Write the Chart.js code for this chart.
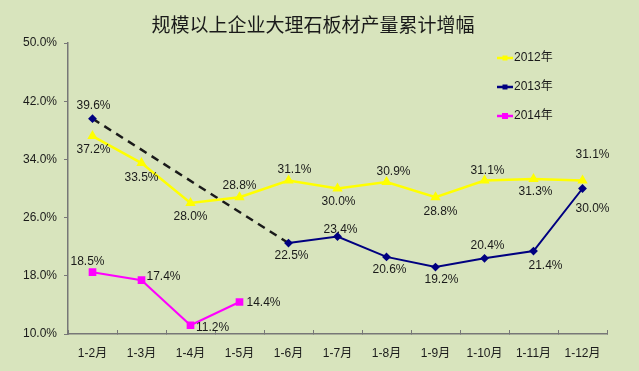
<!DOCTYPE html>
<html lang="zh">
<head>
    <meta charset="UTF-8">
    <title>规模以上企业大理石板材产量累计增幅</title>
    <style>
        html, body { margin: 0; padding: 0; background: #d8e4bd; }
        #wrap { width: 639px; height: 371px; position: relative; }
    </style>
</head>
<body>
    <div id="wrap">
        <canvas id="myChart" width="639" height="371"></canvas>
    </div>

    <script src="https://cdn.jsdelivr.net/npm/chart.js"></script>
    <script>
        // data
        const months = ['1-2月', '1-3月', '1-4月', '1-5月', '1-6月', '1-7月', '1-8月', '1-9月', '1-10月', '1-11月', '1-12月'];
        const growth2012 = [37.2, 33.5, 28.0, 28.8, 31.1, 30.0, 30.9, 28.8, 31.1, 31.3, 31.1];
        const growth2013 = [39.6, null, null, null, 22.5, 23.4, 20.6, 19.2, 20.4, 21.4, 30.0];
        const growth2014 = [18.5, 17.4, 11.2, 14.4];
        const yTicks = [10, 18, 26, 34, 42, 50];

        // where each value label sits relative to its point (dx, dy)
        const labelPos = {
            0: [[1, 14], [0, 15], [0, 14], [0, -12], [6, -11], [1, 13], [7, -10], [5, 14], [3, -10], [2, 13], [10, -26]],
            1: [[1, -13], null, null, null, [3, 13], [3, -7], [3, 13], [6, 13], [3, -13], [12, 15], [10, 20]],
            2: [[-5, -10], [22, -3], [22, 2], [24, 1]]
        };

        const valueLabels = {
            id: 'valueLabels',
            afterDatasetsDraw(chart) {
                const ctx = chart.ctx;
                ctx.save();
                ctx.font = '12px "Liberation Sans", Arial, sans-serif';
                ctx.fillStyle = '#1a1a1a';
                ctx.textAlign = 'center';
                ctx.textBaseline = 'middle';
                chart.data.datasets.forEach((ds, i) => {
                    const meta = chart.getDatasetMeta(i);
                    meta.data.forEach((pt, j) => {
                        const v = ds.data[j];
                        const off = labelPos[i][j];
                        if (v == null || !off) return;
                        ctx.fillText(v.toFixed(1) + '%', pt.x + off[0], pt.y + off[1]);
                    });
                });
                ctx.restore();
            }
        };

        const titleAndLegend = {
            id: 'titleAndLegend',
            afterDraw(chart) {
                const ctx = chart.ctx;
                ctx.save();
                ctx.fillStyle = '#1a1a1a';
                ctx.font = '19px "Noto Sans CJK SC", sans-serif';
                ctx.textAlign = 'center';
                ctx.textBaseline = 'middle';
                ctx.fillText('规模以上企业大理石板材产量累计增幅', 313, 25);

                // legend
                ctx.font = '12px "Liberation Sans", "Noto Sans CJK SC", sans-serif';
                ctx.textAlign = 'left';
                chart.data.datasets.forEach((ds, i) => {
                    const y = 58 + i * 29;
                    ctx.strokeStyle = ds.borderColor;
                    ctx.lineWidth = 2.5;
                    ctx.beginPath();
                    ctx.moveTo(497, y);
                    ctx.lineTo(513, y);
                    ctx.stroke();
                    ctx.fillStyle = ds.borderColor;
                    const r = i === 2 ? 3 : 2.5;
                    ctx.fillRect(505 - r, y - r, r * 2, r * 2);
                    ctx.fillStyle = '#1a1a1a';
                    ctx.fillText(ds.label, 514, y);
                });
                ctx.restore();
            }
        };

        const bg = {
            id: 'bg',
            beforeDraw(chart) {
                const ctx = chart.ctx;
                ctx.save();
                ctx.fillStyle = '#d8e4bd';
                ctx.fillRect(0, 0, chart.width, chart.height);
                ctx.restore();
            }
        };

        // segment that spans the missing months of 2013
        const isGap = c => c.p0.skip || c.p1.skip;

        const ctx = document.getElementById('myChart').getContext('2d');
        new Chart(ctx, {
            type: 'line',
            data: {
                labels: months,
                datasets: [
                    {
                        label: '2012年',
                        data: growth2012,
                        borderColor: '#ffff00',
                        backgroundColor: '#ffff00',
                        borderWidth: 2.5,
                        pointStyle: 'triangle',
                        pointRadius: 3.5,
                        tension: 0
                    },
                    {
                        label: '2013年',
                        data: growth2013,
                        borderColor: '#000080',
                        backgroundColor: '#000080',
                        borderWidth: 2,
                        pointStyle: 'rectRot',
                        pointRadius: 3,
                        spanGaps: true,
                        tension: 0,
                        segment: {
                            borderColor: c => isGap(c) ? '#1a1a1a' : undefined,
                            borderDash: c => isGap(c) ? [8, 6] : undefined,
                            borderWidth: c => isGap(c) ? 2.5 : undefined
                        }
                    },
                    {
                        label: '2014年',
                        data: growth2014,
                        borderColor: '#ff00ff',
                        backgroundColor: '#ff00ff',
                        borderWidth: 2,
                        pointStyle: 'rect',
                        pointRadius: 4,
                        tension: 0
                    }
                ]
            },
            options: {
                responsive: false,
                animation: false,
                layout: {
                    padding: { top: 43, right: 32, left: 0, bottom: 0 }
                },
                plugins: {
                    legend: { display: false },
                    tooltip: { enabled: false },
                    title: { display: false }
                },
                scales: {
                    x: {
                        offset: true,
                        grid: {
                            offset: true,
                            drawOnChartArea: false,
                            drawTicks: true,
                            tickLength: -4,
                            color: '#777'
                        },
                        border: { color: '#777', width: 1.5 },
                        ticks: {
                            color: '#1a1a1a',
                            padding: 16,
                            maxRotation: 0,
                            autoSkip: false,
                            font: { family: '"Liberation Sans", "Noto Sans CJK SC", sans-serif', size: 12 }
                        },
                        afterFit(scale) { scale.height = 37; }
                    },
                    y: {
                        min: 10,
                        max: 50,
                        afterBuildTicks(scale) {
                            scale.ticks = yTicks.map(v => ({ value: v }));
                        },
                        grid: {
                            drawOnChartArea: false,
                            drawTicks: true,
                            tickLength: 4,
                            color: '#777'
                        },
                        border: { color: '#777', width: 1.5 },
                        ticks: {
                            color: '#1a1a1a',
                            padding: 7,
                            font: { family: '"Liberation Sans", Arial, sans-serif', size: 12 },
                            callback: v => v.toFixed(1) + '%'
                        },
                        afterFit(scale) { scale.width = 68; }
                    }
                }
            },
            plugins: [bg, valueLabels, titleAndLegend]
        });
    </script>
</body>
</html>
